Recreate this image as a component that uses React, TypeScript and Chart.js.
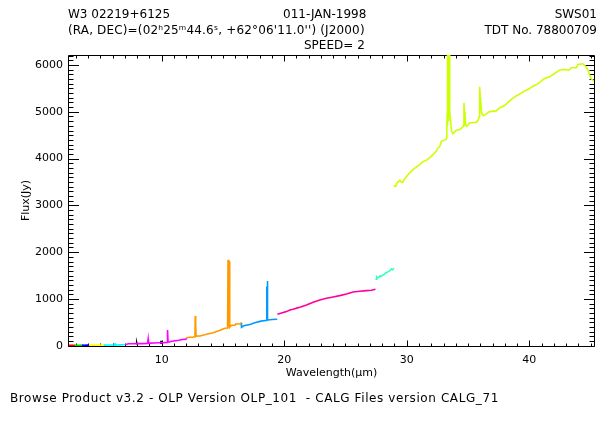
import React, { useEffect, useRef } from "react";
import { Chart, registerables } from "chart.js";

Chart.register(...registerables);

// ---- axis ranges & ticks ----
const xMin = 2.44;
const xMax = 45.28;
const yMin = -6;
const yMax = 6214;
const xTickValues = [10, 20, 30, 40];
const yTickValues = [0, 1000, 2000, 3000, 4000, 5000, 6000];

// ---- text ----
const headerLeft1 = "W3 02219+6125";
const headerMid1 = "011-JAN-1998";
const headerRight1 = "SWS01";
const headerLeft2 = "(RA, DEC)=(02ʰ25ᵐ44.6ˢ, +62°06'11.0'') (J2000)";
const headerRight2 = "TDT No. 78800709";
const headerMid3 = "SPEED= 2";
const footerText = "Browse Product v3.2 - OLP Version OLP_101  - CALG Files version CALG_71";
const xTitle = "Wavelength(μm)";
const yTitle = "Flux(Jy)";

// ---- spectrum segments (wavelength μm, flux Jy) ----
const redWl = [2.44, 2.6, 2.75, 2.92];
const redFlux = [8, 10, 9, 10];

const greenWl = [2.92, 3.1, 3.3, 3.48];
const greenFlux = [10, 11, 10, 12];

const blueWl = [3.48, 3.7, 3.9, 4.06];
const blueFlux = [12, 11, 12, 13];

const yellowWl = [4.06, 4.4, 4.8, 5.25];
const yellowFlux = [13, 12, 14, 13];

const cyanWl = [5.25, 5.6, 5.9, 6.15, 6.2, 6.25, 6.6, 6.9, 7.02];
const cyanFlux = [13, 15, 14, 16, 40, 16, 18, 20, 22];

const magentaWl = [7.02, 7.15, 7.3, 7.6, 8.0, 8.4, 8.85, 8.9, 8.93, 9.0, 9.4, 9.8, 10.2, 10.44, 10.48, 10.52, 10.6, 10.85, 11.1, 11.4, 11.7, 12.05];
const magentaFlux = [22, 30, 43, 42, 44, 45, 46, 143, 55, 55, 58, 62, 66, 72, 336, 85, 80, 95, 107, 118, 134, 140];

const blackWl = [7.95, 7.97, 7.99, 8.5, 9.93, 9.95, 9.97];
const blackFlux = [40, 60, 40, null, 40, 107, 40];

const orangeWl = [11.98, 12.2, 12.5, 12.72, 12.74, 12.76, 12.79, 12.81, 13.13, 13.67, 14.21, 14.76, 15.16, 15.38, 15.42, 15.45, 15.48, 15.51, 15.54, 15.57, 15.7, 15.98, 16.04, 16.44, 16.49];
const orangeFlux = [158, 180, 182, 190, 636, 200, 465, 205, 208, 244, 279, 329, 372, 380, 1835, 390, 1799, 1799, 400, 393, 436, 436, 464, 464, 493];

const skyWl = [16.49, 16.52, 16.7, 17.2, 17.6, 18.1, 18.5, 18.56, 18.58, 18.6, 18.62, 18.64, 18.66, 18.72, 19.0, 19.43];
const skyFlux = [493, 393, 425, 455, 490, 525, 540, 540, 1250, 1250, 1385, 1385, 560, 550, 560, 565];

const pinkWl = [19.45, 19.92, 20.19, 20.46, 20.73, 21.14, 21.28, 21.82, 22.36, 22.91, 23.45, 23.99, 24.53, 25.08, 25.62, 26.17, 26.71, 27.12, 27.45];
const pinkFlux = [672, 708, 729, 764, 779, 814, 822, 872, 929, 979, 1014, 1043, 1071, 1107, 1150, 1164, 1178, 1185, 1207];

const aquaWl = [27.45, 27.5, 27.55, 27.62, 27.72, 27.8, 27.9, 28.07, 28.2, 28.3, 28.47, 28.6, 28.77, 28.85, 28.96];
const aquaFlux = [1430, 1421, 1470, 1450, 1460, 1490, 1480, 1514, 1530, 1560, 1578, 1600, 1640, 1625, 1657];

const limeWl = [28.94, 29.1, 29.2, 29.43, 29.55, 29.65, 29.83, 30.1, 30.5, 31.06, 31.3, 31.6, 32.0, 32.14, 32.4, 32.55, 32.7, 32.82, 33.17, 33.26, 33.3, 33.32, 33.34, 33.37, 33.4, 33.43, 33.46, 33.49, 33.52, 33.58, 33.66, 33.77, 34.05, 34.32, 34.58, 34.62, 34.67, 34.72, 34.75, 34.8, 34.9, 35.13, 35.68, 35.85, 35.9, 35.95, 36.0, 36.03, 36.11, 36.22, 36.5, 36.76, 37.3, 37.58, 37.98, 38.39, 38.8, 39.15, 39.48, 39.88, 40.3, 40.7, 40.97, 41.24, 41.65, 42.06, 42.47, 42.87, 43.23, 43.42, 43.83, 43.96, 44.37, 44.59, 44.77, 44.91, 45.05, 45.3];
const limeFlux = [3426, 3405, 3477, 3533, 3500, 3490, 3563, 3655, 3762, 3869, 3935, 3961, 4048, 4083, 4155, 4227, 4262, 4369, 4405, 4430, 4976, 6500, 4700, 6500, 4800, 6500, 4900, 6500, 5000, 4797, 4582, 4533, 4604, 4620, 4676, 4700, 5190, 4900, 4990, 4726, 4690, 4762, 4776, 4833, 4900, 5533, 5300, 5225, 4976, 4918, 4955, 5004, 5019, 5083, 5133, 5235, 5319, 5368, 5426, 5475, 5546, 5597, 5653, 5711, 5747, 5818, 5889, 5904, 5889, 5940, 5940, 6011, 6026, 5975, 5904, 5797, 5704, 5653];

const segmentWl = [redWl, greenWl, blueWl, yellowWl, cyanWl, magentaWl, blackWl, orangeWl, skyWl, pinkWl, aquaWl, limeWl];
const segmentFlux = [redFlux, greenFlux, blueFlux, yellowFlux, cyanFlux, magentaFlux, blackFlux, orangeFlux, skyFlux, pinkFlux, aquaFlux, limeFlux];
const segmentColors = ["#ff0000", "#00e000", "#0000ff", "#ffff00", "#00ffff", "#ff00ff", "#000000", "#ff9900", "#0099ff", "#ff0099", "#33ffbb", "#ccff00"];

const FONT = "'DejaVu Sans', sans-serif";

const framePlugin = {
  id: "idlFrame",
  beforeDatasetsDraw(chart: any) {
    const { ctx, chartArea } = chart;
    const xs = chart.scales.x;
    const ys = chart.scales.y;
    const L = chartArea.left - 0.5;
    const R = chartArea.right + 0.5;
    const T = chartArea.top + 0.5;
    const B = chartArea.bottom + 0.5;
    ctx.save();
    ctx.strokeStyle = "#000";
    ctx.lineWidth = 1;
    ctx.beginPath();
    ctx.moveTo(L, T);
    ctx.lineTo(R, T);
    ctx.lineTo(R, B);
    ctx.lineTo(L, B);
    ctx.closePath();
    ctx.stroke();
    ctx.beginPath();
    for (let v = Math.ceil(xMin); v <= Math.floor(xMax); v++) {
      const px = Math.round(xs.getPixelForValue(v)) + 0.5;
      const len = v % 10 === 0 ? 6 : 3;
      ctx.moveTo(px, B);
      ctx.lineTo(px, B - len);
      ctx.moveTo(px, T);
      ctx.lineTo(px, T + len);
    }
    for (let v = 0; v <= yMax; v += 100) {
      const py = Math.round(ys.getPixelForValue(v)) + 0.5;
      const len = v % 1000 === 0 ? 10.5 : 5;
      ctx.moveTo(L, py);
      ctx.lineTo(L + len, py);
      ctx.moveTo(R, py);
      ctx.lineTo(R - len, py);
    }
    ctx.stroke();
    ctx.restore();
  },
};

function SpectrumChart() {
  const canvasRef = useRef<HTMLCanvasElement | null>(null);
  useEffect(() => {
    const canvas = canvasRef.current;
    if (!canvas) return;
    const datasets = segmentWl.map((wl, i) => ({
      data: wl.map((w, j) => ({ x: w, y: segmentFlux[i][j] })),
      borderColor: segmentColors[i],
      backgroundColor: segmentColors[i],
      borderWidth: 1.6,
      pointRadius: 0,
      tension: 0,
      fill: false,
      spanGaps: false,
    }));
    const chart = new Chart(canvas, {
      type: "line",
      data: { datasets },
      plugins: [framePlugin],
      options: {
        animation: false,
        responsive: false,
        maintainAspectRatio: false,
        layout: { padding: { top: 55, right: 17, left: 0, bottom: 0 } },
        plugins: { legend: { display: false }, tooltip: { enabled: false } },
        scales: {
          x: {
            type: "linear",
            min: xMin,
            max: xMax,
            grid: { display: false, drawTicks: false },
            border: { display: false },
            ticks: {
              color: "#000",
              font: { family: FONT, size: 11 },
              padding: 8,
              autoSkip: false,
              maxRotation: 0,
              callback: (v: any) => String(v),
            },
            afterBuildTicks: (s: any) => {
              s.ticks = xTickValues.map((v) => ({ value: v }));
            },
            afterFit: (s: any) => {
              s.height = 77;
            },
            title: { display: true, text: xTitle, color: "#000", font: { family: FONT, size: 11 }, padding: { top: 0, bottom: 43 } },
          },
          y: {
            type: "linear",
            min: yMin,
            max: yMax,
            grid: { display: false, drawTicks: false },
            border: { display: false },
            ticks: {
              color: "#000",
              font: { family: FONT, size: 11 },
              padding: 6,
              autoSkip: false,
              callback: (v: any) => String(v),
            },
            afterBuildTicks: (s: any) => {
              s.ticks = yTickValues.map((v) => ({ value: v }));
            },
            afterFit: (s: any) => {
              s.width = 69;
            },
            title: { display: true, text: yTitle, color: "#000", font: { family: FONT, size: 11 }, padding: { top: 20, bottom: 0 } },
          },
        },
      },
    } as any);
    return () => chart.destroy();
  }, []);
  return <canvas ref={canvasRef} width={611} height={423} style={{ position: "absolute", left: 0, top: 0, display: "block" }} />;
}

const textBase: React.CSSProperties = {
  position: "absolute",
  fontFamily: FONT,
  fontSize: 12,
  lineHeight: "14px",
  whiteSpace: "pre",
  color: "#000",
};

export default function App() {
  return (
    <div style={{ position: "absolute", left: 0, top: 0, width: 611, height: 423, background: "#fff", overflow: "hidden" }}>
      <SpectrumChart />
      <div style={{ ...textBase, left: 68, top: 7 }}>{headerLeft1}</div>
      <div style={{ ...textBase, left: 283, top: 7 }}>{headerMid1}</div>
      <div style={{ ...textBase, right: 14, top: 7 }}>{headerRight1}</div>
      <div style={{ ...textBase, left: 68, top: 23, letterSpacing: "0.15px" }}>{headerLeft2}</div>
      <div style={{ ...textBase, right: 14, top: 23 }}>{headerRight2}</div>
      <div style={{ ...textBase, left: 304, top: 38 }}>{headerMid3}</div>
      <div style={{ ...textBase, left: 10, top: 391, letterSpacing: "0.6px" }}>{footerText}</div>
    </div>
  );
}
